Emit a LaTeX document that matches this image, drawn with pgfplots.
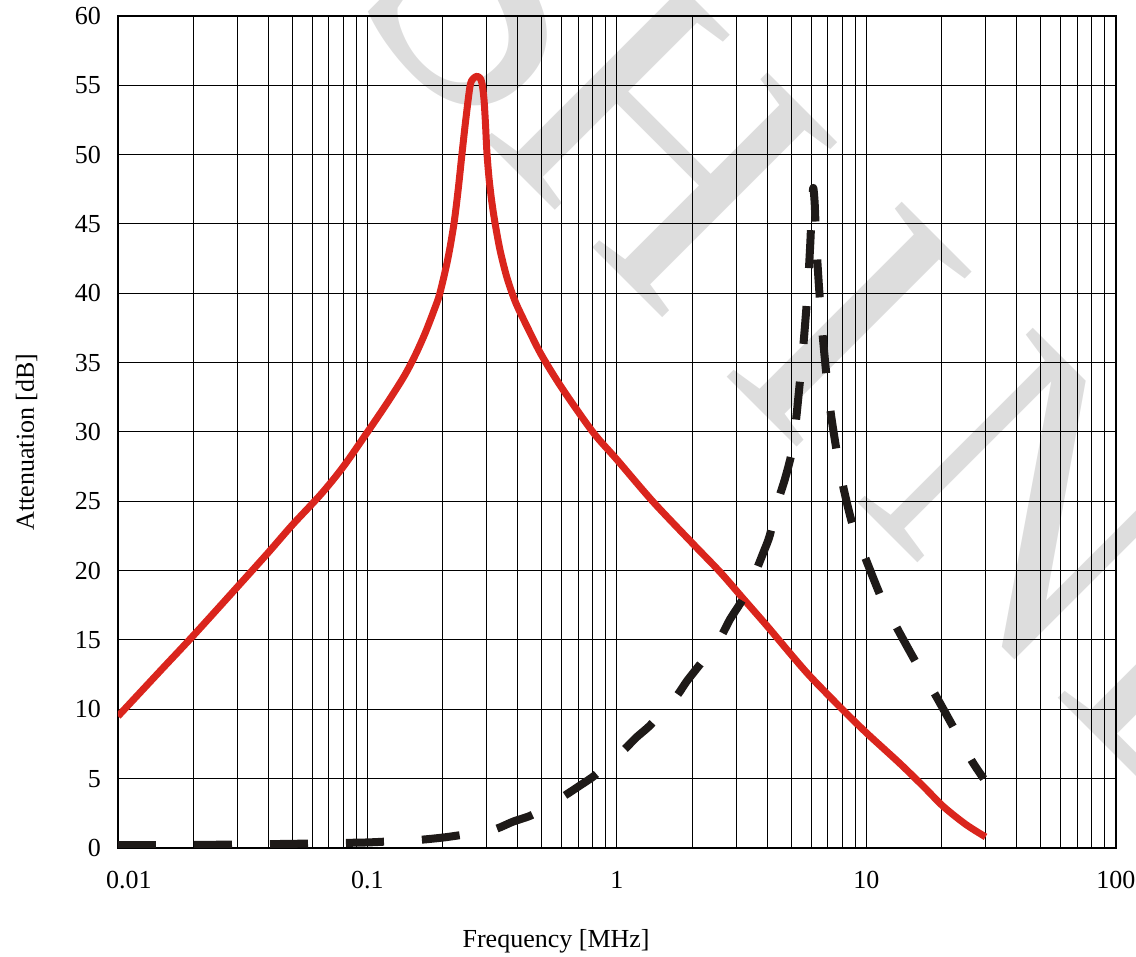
\documentclass[border=0pt]{standalone}
\usepackage{fontspec}
\setmainfont{Liberation Serif}
\usepackage{pgfplots}
\pgfplotsset{compat=1.18}
\definecolor{curvered}{RGB}{218,37,29}
\definecolor{curveblack}{RGB}{30,26,24}
\definecolor{wmgray}{RGB}{221,221,221}

\begin{document}
\begin{tikzpicture}
\useasboundingbox (-59pt,-54.5pt) rectangle (509pt,424pt);
% watermark behind the grid
\begin{scope}
\clip (-59pt,-54.5pt) rectangle (509pt,424pt);
\foreach \l/\x/\y in {S/193.5/430, H/272/353, I/366/261.5, N/458.5/171.5, E/551/81.5}
  \node[text=wmgray, rotate=-45, inner sep=0, font=\fontsize{189}{189}\selectfont] at (\x pt,\y pt) {\l};
\end{scope}
\begin{axis}[
    at={(0,0)}, anchor=south west,
    scale only axis,
    width=499pt, height=416pt,
    xmode=log,
    xmin=0.01, xmax=100,
    ymin=0, ymax=60,
    xtick={0.01,0.1,1,10,100},
    xticklabels={\hspace*{11pt}0.01,0.1,1,10,100},
    minor xtick={0.02,0.03,0.04,0.05,0.06,0.07,0.08,0.09,
                 0.2,0.3,0.4,0.5,0.6,0.7,0.8,0.9,
                 2,3,4,5,6,7,8,9,
                 20,30,40,50,60,70,80,90},
    ytick={0,5,...,60},
    grid=both,
    major grid style={black, line width=0.5pt},
    minor grid style={black, line width=0.5pt},
    major tick length=0pt, minor tick length=0pt,
    axis line style={black, line width=0.6pt},
    /pgf/number format/assume math mode=true,
    tick label style={font=\fontsize{13}{15}\selectfont},
    yticklabel style={xshift=-5pt},
    xticklabel style={yshift=-8pt},
    label style={font=\fontsize{13}{15}\selectfont},
    xlabel={Frequency [MHz]},
    ylabel={Attenuation [dB]},
    xlabel style={at={(axis description cs:0.439,-0.119)}, anchor=base},
    ylabel style={at={(axis description cs:-0.0842,0.488)}, anchor=base},
  ]
  % differential mode (red)
  \addplot[curvered, line width=3.5pt, line join=round, smooth, tension=0.5] coordinates {
    (0.01,9.5) (0.015,12.9) (0.02,15.3) (0.03,18.8) (0.04,21.3)
    (0.05,23.3) (0.065,25.5) (0.08,27.5) (0.1,30.0) (0.12,32.1)
    (0.14,34.0) (0.155,35.5) (0.17,37.1) (0.185,38.8) (0.195,40.0)
    (0.21,42.5) (0.222,45.0) (0.231,47.5) (0.239,50.0) (0.248,52.6)
    (0.258,55.0) (0.266,55.5) (0.275,55.65) (0.283,55.5) (0.288,55.1)
    (0.293,54.0) (0.297,52.3) (0.301,50.2) (0.307,48.3) (0.315,46.6)
    (0.325,45.0) (0.34,43.1) (0.36,41.3) (0.38,40.0) (0.4,39.0)
    (0.45,37.1) (0.5,35.5) (0.6,33.2) (0.8,30.0) (1.0,28.0)
    (1.39,25.0) (2.0,22.0) (2.59,19.9) (3.2,18.0) (4.0,16.0)
    (5.07,13.8) (6.0,12.3) (8.0,10.0) (10.0,8.3) (13.6,6.1)
    (17,4.4) (20.3,3.0) (25,1.7) (30,0.8)
  };
  % common mode (black dashed)
  \addplot[curveblack, line width=4pt, line join=round, smooth, tension=0.4,
           dash pattern=on 19pt off 19pt] coordinates {
    (0.01,0.2) (0.02,0.22) (0.03,0.25) (0.05,0.3) (0.07,0.35)
    (0.1,0.4) (0.13,0.5) (0.165,0.6) (0.2,0.75) (0.23,0.9)
    (0.28,1.15) (0.33,1.4) (0.383,1.9) (0.446,2.3) (0.52,2.9)
    (0.62,3.8) (0.71,4.5) (0.81,5.2) (0.95,6.3) (1.07,7.1)
    (1.2,8.0) (1.35,8.8) (1.55,10.0) (1.75,11.05) (1.9,12.0)
    (2.1,13.0) (2.35,14.1) (2.62,15.3) (2.84,16.5) (3.11,17.6)
    (3.4,18.8) (3.65,20.2) (3.86,21.3) (4.09,22.5) (4.42,25.0)
    (4.71,26.6) (5.0,28.4) (5.2,30.6) (5.4,33.5) (5.6,36.5)
    (5.8,40.0) (5.95,43.5) (6.05,46.5) (6.12,47.6) (6.2,46.5)
    (6.3,43.5) (6.45,40.5) (6.65,37.3) (6.9,34.2) (7.2,31.3)
    (7.6,28.6) (8.08,26.0) (8.8,23.3) (10.0,20.7) (11.5,18.0)
    (13.4,15.7) (16,13.2) (18.8,11.1) (22,8.9) (26.4,6.3)
    (29.5,5.0)
  };
\end{axis}
\end{tikzpicture}
\end{document}
